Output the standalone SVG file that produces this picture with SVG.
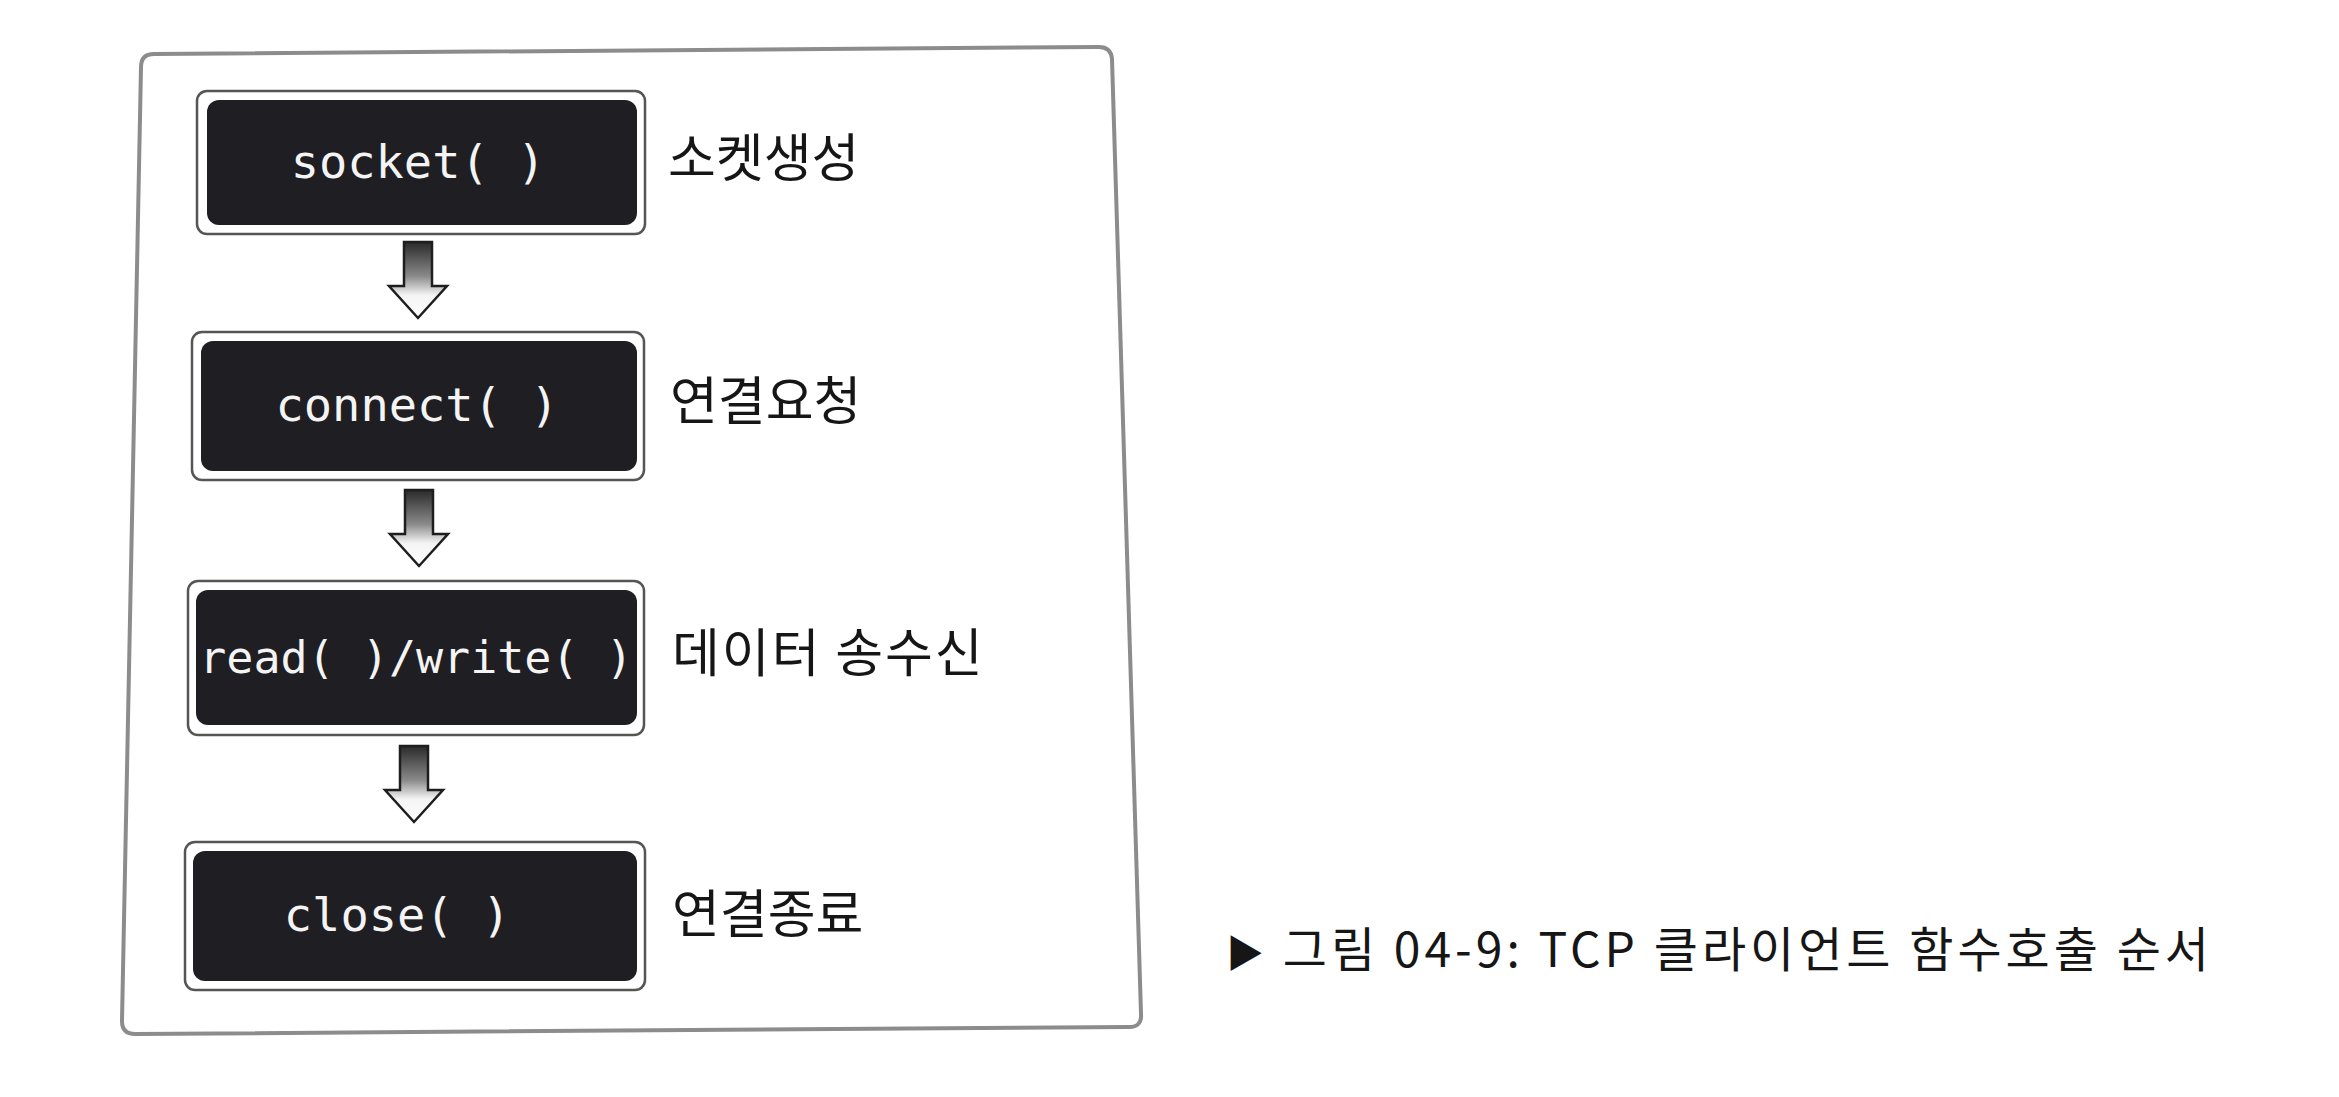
<svg xmlns="http://www.w3.org/2000/svg" width="2339" height="1097" viewBox="0 0 2339 1097">
  <defs>
    <linearGradient id="arrowGrad" x1="0" y1="0" x2="0" y2="1">
      <stop offset="0" stop-color="#2a2a2a"/>
      <stop offset="0.45" stop-color="#8a8a8a"/>
      <stop offset="0.7" stop-color="#f4f4f4"/>
      <stop offset="1" stop-color="#ffffff"/>
    </linearGradient>
    <path id="blockArrow" d="M -14 0 L 14 0 L 14 44 L 29 44 L 0 76 L -29 44 L -14 44 Z"/>
  </defs>
  <style>
    .frame { fill: #ffffff; stroke: #8c8c8c; stroke-width: 4; }
    .outer { fill: #ffffff; stroke: #555555; stroke-width: 2.5; }
    .inner { fill: #1f1f23; }
    .code { font-family: "DejaVu Sans Mono", "Liberation Mono", monospace; font-size: 47px; fill: #f4f4f4; text-anchor: middle; }
    .code.tight { font-size: 45px; }
    .label { font-family: "Noto Sans CJK KR", "Noto Sans", sans-serif; font-size: 52px; fill: #161616; }
    .caption { font-family: "Noto Sans CJK KR", "Noto Sans", sans-serif; font-size: 48px; fill: #161616; letter-spacing: 4px; }
    .arrow { fill: url(#arrowGrad); stroke: #1e1e1e; stroke-width: 2.5; stroke-linejoin: miter; }
  </style>
  <rect x="0" y="0" width="2339" height="1097" fill="#ffffff"/>

  <path id="frame" class="frame" d="M 154 54 L 1099 47 Q 1111 47 1112 59 L 1141 1014 Q 1142 1027 1129 1027 L 135 1034 Q 122 1034 122 1021 L 141 67 Q 141 54 154 54 Z"/>

  <g id="node-socket">
    <rect class="outer" x="197" y="91" width="448" height="143" rx="10"/>
    <rect class="inner" x="207" y="100" width="430" height="125" rx="12"/>
    <text class="code" x="418" y="178">socket( )</text>
    <text class="label" x="668" y="177">소켓생성</text>
  </g>

  <g id="node-connect">
    <rect class="outer" x="192" y="332" width="452" height="148" rx="10"/>
    <rect class="inner" x="201" y="341" width="436" height="130" rx="12"/>
    <text class="code" x="417" y="421">connect( )</text>
    <text class="label" x="670" y="420">연결요청</text>
  </g>

  <g id="node-readwrite">
    <rect class="outer" x="188" y="581" width="456" height="154" rx="10"/>
    <rect class="inner" x="196" y="590" width="441" height="135" rx="12"/>
    <text class="code tight" x="416" y="673">read( )/write( )</text>
    <text class="label" x="672" y="672" letter-spacing="2">데이터 송수신</text>
  </g>

  <g id="node-close">
    <rect class="outer" x="185" y="842" width="460" height="148" rx="10"/>
    <rect class="inner" x="193" y="851" width="444" height="130" rx="12"/>
    <text class="code" x="397" y="931">close( )</text>
    <text class="label" x="672" y="933">연결종료</text>
  </g>

  <g id="connectors">
    <use href="#blockArrow" class="arrow" transform="translate(418,242)"/>
    <use href="#blockArrow" class="arrow" transform="translate(419,490)"/>
    <use href="#blockArrow" class="arrow" transform="translate(414,746)"/>
  </g>

  <g id="caption">
    <text class="caption" x="1226" y="967"><tspan font-size="38px">▶</tspan> 그림 04-9: TCP 클라이언트 함수호출 순서</text>
  </g>
</svg>
